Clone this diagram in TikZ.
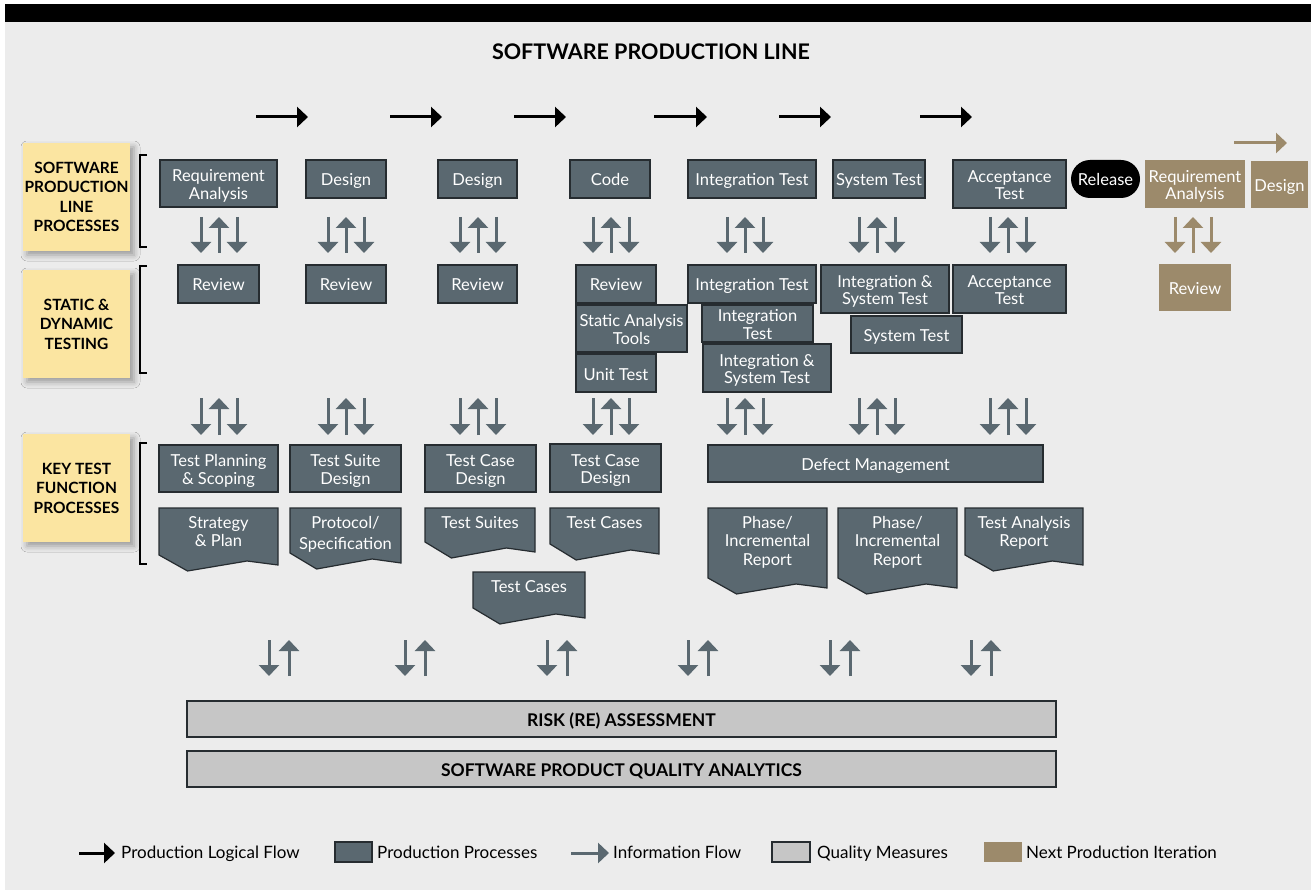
\documentclass[tikz,border=0pt]{standalone}
\usepackage{fontspec}
\setmainfont{Lato}
\usetikzlibrary{arrows.meta,shadows.blur}

\definecolor{panel}{HTML}{ECECEC}
\definecolor{slate}{HTML}{5A6870}
\definecolor{edge}{HTML}{262C30}
\definecolor{tan}{HTML}{9C8A6B}
\definecolor{note}{HTML}{FBE5A1}
\definecolor{qgray}{HTML}{C6C6C6}

% box given by its corners (x1,y1)-(x2,y2) in pixel units
\newcommand\placebox[7]{%
  \pgfmathsetmacro\pbW{#5-#3}%
  \pgfmathsetmacro\pbH{#6-#4}%
  \pgfmathsetmacro\pbX{(#3+#5)/2}%
  \pgfmathsetmacro\pbY{(#4+#6)/2}%
  \node[#1, minimum width=\pbW pt, minimum height=\pbH pt] (#2) at (\pbX,\pbY) {#7};}

% box with its lines of text set as a centred stack, baselines kept regular
\newcommand\procbox[8][boxtext]{%
  \placebox{#2}{#3}{#4}{#5}{#6}{#7}{}%
  \node[#1] (#3t) at (\pbX,\pbY+3.5) {\begin{tabular}{@{}c@{}}#8\end{tabular}};}

% document shape: name, left, top, right, bottom of left edge, text
\newcommand\docbox[6]{%
  \pgfmathsetmacro\dbA{#2+0.74*(#4-#2)}%
  \pgfmathsetmacro\dbB{#2+0.24*(#4-#2)}%
  \pgfmathsetmacro\dbX{(#2+#4)/2}%
  \path[docfill] (#2,#3) -- (#4,#3) -- (#4,#5+10) -- (\dbA,#5+6) -- (\dbB,#5+16) -- (#2,#5) -- cycle;
  \node[doctext] (#1) at (\dbX,#3+7) {\begin{tabular}{@{}c@{}}#6\end{tabular}};}

% down / up / down information arrows
\newcommand\triad[4]{%
  \draw[#1] (#2-18,#3) -- (#2-18,#4);
  \draw[#1] (#2,#4) -- (#2,#3);
  \draw[#1] (#2+18,#3) -- (#2+18,#4);}

% down / up pair
\newcommand\duo[3]{%
  \draw[info] (#1-10,#2) -- (#1-10,#3);
  \draw[info] (#1+10,#3) -- (#1+10,#2);}

\begin{document}
\begin{tikzpicture}[x=1pt,y=-1pt,
  boxtext/.style={font=\fontsize{16.5}{17.5}\selectfont, text=white, inner sep=0pt},
  bartext/.style={font=\bfseries\fontsize{17.5}{17.5}\selectfont, text=black, inner sep=0pt},
  proc/.style={draw=edge, line width=1.2pt, fill=slate, inner sep=0pt},
  nextit/.style={fill=tan, inner sep=0pt},
  pill/.style={fill=black, rounded corners=19pt, inner sep=0pt},
  docfill/.style={fill=slate, draw=edge, line width=1.2pt, line join=miter},
  doctext/.style={font=\fontsize{16.5}{18.5}\selectfont, text=white, inner sep=0pt, anchor=north},
  tag/.style={fill=note, align=center, inner sep=0pt,
    font=\bfseries\fontsize{15.5}{19.5}\selectfont,
    blur shadow={shadow xshift=4pt, shadow yshift=-4pt, shadow blur radius=6pt, shadow opacity=35}},
  bar/.style={fill=qgray, draw=edge, line width=1.2pt, inner sep=0pt},
  brace/.style={line width=2.5pt, line join=miter},
  flow/.style={line width=3pt, -{Triangle[width=20pt,length=11pt]}},
  info/.style={flow, draw=slate, color=slate},
  nextflow/.style={flow, draw=tan, color=tan},
  legtext/.style={anchor=base west, inner sep=0pt, font=\fontsize{17}{20}\selectfont}]

\useasboundingbox (0,0) rectangle (1311,890);
\fill[white] (0,0) rectangle (1311,890);
\fill[panel] (5,22) rectangle (1311,890);
\fill[black] (5,4) rectangle (1311,22);

\node[font=\bfseries\fontsize{21.5}{24}\selectfont] (title) at (651,52) {SOFTWARE PRODUCTION LINE};

% production logical flow
\foreach \a/\b in {256/308, 390/442, 514/566, 654/707, 779/831, 920/972} {
  \draw[flow] (\a,117) -- (\b,117);
}
\draw[nextflow] (1234,143) -- (1287,143);

% row labels
\placebox{tag}{lab1}{23}{143}{130}{251}{SOFTWARE\\PRODUCTION\\LINE\\PROCESSES}
\placebox{tag}{lab2}{23}{270}{130}{378}{STATIC \&\\DYNAMIC\\TESTING}
\placebox{tag}{lab3}{23}{434}{130}{542}{KEY TEST\\FUNCTION\\PROCESSES}

\draw[brace] (147,155) -- (140,155) -- (140,247) -- (147,247);
\draw[brace] (147,266) -- (140,266) -- (140,373) -- (147,373);
\draw[brace] (147,443) -- (140,443) -- (140,564) -- (147,564);

% production line processes
\procbox{proc}{reqA}{160}{160}{277}{207}{Requirement\\Analysis}
\procbox{proc}{desA}{306}{160}{386}{198}{Design}
\procbox{proc}{desB}{438}{160}{517}{198}{Design}
\procbox{proc}{code}{570}{160}{650}{198}{Code}
\procbox{proc}{intA}{688}{160}{816}{198}{Integration Test}
\procbox{proc}{sysA}{833}{160}{925}{198}{System Test}
\procbox{proc}{accA}{953}{160}{1066}{208}{Acceptance\\Test}
\procbox{pill}{release}{1071}{160}{1140}{198}{Release}
\procbox{nextit}{nreq}{1145}{160}{1245}{208}{Requirement\\Analysis}
\procbox{nextit}{ndes}{1251}{161}{1308}{208}{Design}

% static & dynamic testing
\procbox{proc}{revA}{178}{265}{259}{303}{Review}
\procbox{proc}{revB}{306}{265}{386}{303}{Review}
\procbox{proc}{revC}{438}{265}{517}{303}{Review}
\procbox{proc}{revD}{576}{265}{656}{303}{Review}
\procbox{proc}{sat}{576}{305}{687}{352}{Static Analysis\\Tools}
\procbox{proc}{unit}{576}{354}{656}{392}{Unit Test}
\procbox{proc}{intB}{688}{265}{816}{303}{Integration Test}
\procbox{proc}{intC}{702}{305}{813}{342}{Integration\\Test}
\procbox{proc}{istA}{703}{344}{831}{392}{Integration \&\\System Test}
\procbox{proc}{istB}{821}{265}{949}{313}{Integration \&\\System Test}
\procbox{proc}{sysB}{851}{316}{962}{353}{System Test}
\procbox{proc}{accB}{953}{265}{1066}{313}{Acceptance\\Test}
\procbox{nextit}{nrev}{1159}{264}{1231}{311}{Review}

% key test function processes
\procbox{proc}{tps}{159}{445}{278}{492}{Test Planning\\\& Scoping}
\procbox{proc}{tsd}{290}{445}{401}{492}{Test Suite\\Design}
\procbox{proc}{tcdA}{425}{445}{536}{492}{Test Case\\Design}
\procbox{proc}{tcdB}{550}{444}{661}{492}{Test Case\\Design}
\procbox{proc}{defm}{708}{445}{1043}{482}{Defect Management}

\docbox{strat}{159}{508}{278}{555}{Strategy\\\& Plan}
\docbox{proto}{290}{508}{401}{553}{Protocol/\\[3pt]Specification}
\docbox{suites}{425}{508}{535}{542}{Test Suites}
\docbox{casesA}{550}{508}{659}{544}{Test Cases}
\docbox{casesB}{473}{572}{585}{608}{Test Cases}
\docbox{phaseA}{708}{508}{827}{578}{Phase/\\Incremental\\Report}
\docbox{phaseB}{838}{508}{957}{578}{Phase/\\Incremental\\Report}
\docbox{analysis}{965}{508}{1083}{555}{Test Analysis\\Report}

% information flow
\foreach \c in {219,346,478,611,745,877,1008} {
  \triad{info}{\c}{217}{253}
  \triad{info}{\c}{398}{435}
}
\triad{nextflow}{1193}{217}{253}
\foreach \c in {279,415,557,698,840,981} {
  \duo{\c}{640}{676}
}

% quality measures
\procbox[bartext]{bar}{risk}{187}{701}{1056}{737}{RISK (RE) ASSESSMENT}
\procbox[bartext]{bar}{quality}{187}{751}{1056}{787}{SOFTWARE PRODUCT QUALITY ANALYTICS}

% legend
\draw[flow] (79,853) -- (115,853);
\node[legtext] (lgA) at (121,858) {Production Logical Flow};
\placebox{fill=slate, draw=edge, line width=1.2pt, inner sep=0pt}{lgB}{335}{842}{372}{862}{}
\node[legtext] (lgBt) at (377,858) {Production Processes};
\draw[info] (571,853) -- (609,853);
\node[legtext] (lgC) at (613,858) {Information Flow};
\placebox{fill=qgray, draw=edge, line width=1.2pt, inner sep=0pt}{lgD}{772}{842}{810}{862}{}
\node[legtext] (lgDt) at (817,858) {Quality Measures};
\placebox{fill=tan, inner sep=0pt}{lgE}{984}{842}{1022}{862}{}
\node[legtext] (lgEt) at (1026,858) {Next Production Iteration};

\end{tikzpicture}
\end{document}
